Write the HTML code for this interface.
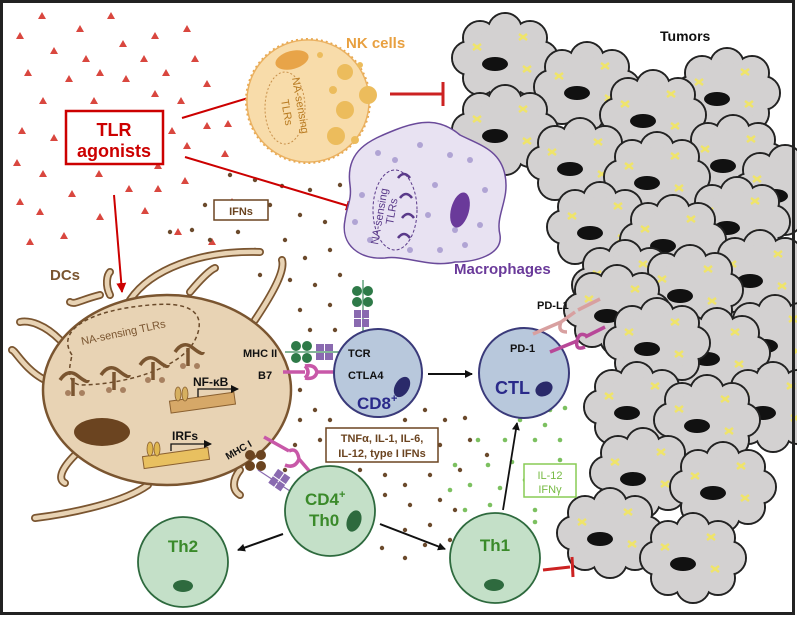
<!DOCTYPE html>
<html><head><meta charset="utf-8"><style>
html,body{margin:0;padding:0;background:#fff}
svg{display:block;font-family:"Liberation Sans",Arial,sans-serif}
</style></head><body>
<svg width="797" height="617" viewBox="0 0 797 617" xmlns="http://www.w3.org/2000/svg">
<defs>
<g id="cl">
 <g fill="#d3d1d1" stroke="#222" stroke-width="2">
  <circle cx="36" cy="0" r="17"/><circle cx="25" cy="20" r="17"/><circle cx="0" cy="28" r="17"/><circle cx="-25" cy="20" r="17"/>
  <circle cx="-36" cy="0" r="17"/><circle cx="-25" cy="-20" r="17"/><circle cx="0" cy="-28" r="17"/><circle cx="25" cy="-20" r="17"/>
 </g>
 <g fill="#d3d1d1">
  <circle cx="36" cy="0" r="16"/><circle cx="25" cy="20" r="16"/><circle cx="0" cy="28" r="16"/><circle cx="-25" cy="20" r="16"/>
  <circle cx="-36" cy="0" r="16"/><circle cx="-25" cy="-20" r="16"/><circle cx="0" cy="-28" r="16"/><circle cx="25" cy="-20" r="16"/>
  <ellipse cx="0" cy="0" rx="38" ry="30"/>
 </g>
 <ellipse cx="-10" cy="6" rx="13" ry="7" fill="#111"/>
 <g stroke="#efe46a" stroke-width="2.5"><path d="M14 -24 l8 6 M22 -24 l-8 6 M18 8 l8 6 M26 8 l-8 6 M-32 -14 l8 6 M-24 -14 l-8 6"/></g>
</g>
<marker id="ar" markerWidth="8" markerHeight="8" refX="7" refY="4" orient="auto" markerUnits="userSpaceOnUse"><path d="M0 0 L8 4 L0 8z" fill="#111"/></marker>
<marker id="arr" markerWidth="10" markerHeight="10" refX="9" refY="5" orient="auto" markerUnits="userSpaceOnUse"><path d="M0 0 L10 5 L0 10z" fill="#c00"/></marker>
</defs>

<!-- tumors -->
<use href="#cl" x="505" y="58"/><use href="#cl" x="727" y="93"/><use href="#cl" x="587" y="87"/>
<use href="#cl" x="505" y="130"/><use href="#cl" x="653" y="115"/>
<use href="#cl" x="733" y="160"/><use href="#cl" x="580" y="163"/><use href="#cl" x="657" y="177"/><use href="#cl" x="785" y="190"/>
<use href="#cl" x="737" y="222"/><use href="#cl" x="600" y="227"/><use href="#cl" x="673" y="240"/>
<use href="#cl" x="760" y="275"/><use href="#cl" x="625" y="285"/><use href="#cl" x="690" y="290"/>
<use href="#cl" x="617" y="310"/><use href="#cl" x="775" y="340"/><use href="#cl" x="717" y="353"/><use href="#cl" x="657" y="343"/>
<use href="#cl" x="773" y="407"/><use href="#cl" x="637" y="407"/><use href="#cl" x="707" y="420"/>
<use href="#cl" x="643" y="473"/><use href="#cl" x="723" y="487"/>
<use href="#cl" x="610" y="533"/><use href="#cl" x="693" y="558"/>
<text x="660" y="41" font-size="14" font-weight="bold" fill="#111">Tumors</text>

<!-- triangles -->
<g fill="#d9473f">
<path d="M42 12l4 7h-8z M111 12l4 7h-8z M20 32l4 7h-8z M80 25l4 7h-8z M155 32l4 7h-8z M187 25l4 7h-8z M54 47l4 7h-8z M123 40l4 7h-8z M86 55l4 7h-8z M144 55l4 7h-8z M195 55l4 7h-8z M28 69l4 7h-8z M69 75l4 7h-8z M100 69l4 7h-8z M126 75l4 7h-8z M166 69l4 7h-8z M43 97l4 7h-8z M94 97l4 7h-8z M155 90l4 7h-8z M181 97l4 7h-8z M207 80l4 7h-8z M22 127l4 7h-8z M54 134l4 7h-8z M172 127l4 7h-8z M207 122l4 7h-8z M187 142l4 7h-8z M17 159l4 7h-8z M43 170l4 7h-8z M99 170l4 7h-8z M158 162l4 7h-8z M72 190l4 7h-8z M129 185l4 7h-8z M158 185l4 7h-8z M185 177l4 7h-8z M40 208l4 7h-8z M100 213l4 7h-8z M145 207l4 7h-8z M225 150l4 7h-8z M232 198l4 7h-8z M212 238l4 7h-8z M178 228l4 7h-8z M20 198l4 7h-8z M30 238l4 7h-8z M64 232l4 7h-8z M228 120l4 7h-8z"/>
</g>

<!-- brown dots -->
<g fill="#6b4a2c">
<circle cx="230" cy="175" r="2.2"/><circle cx="255" cy="180" r="2.2"/><circle cx="282" cy="186" r="2.2"/><circle cx="310" cy="190" r="2.2"/><circle cx="340" cy="185" r="2.2"/>
<circle cx="240" cy="210" r="2.2"/><circle cx="270" cy="205" r="2.2"/><circle cx="300" cy="215" r="2.2"/><circle cx="325" cy="222" r="2.2"/>
<circle cx="192" cy="230" r="2.2"/><circle cx="210" cy="240" r="2.2"/><circle cx="255" cy="250" r="2.2"/><circle cx="285" cy="240" r="2.2"/><circle cx="305" cy="258" r="2.2"/><circle cx="330" cy="250" r="2.2"/>
<circle cx="260" cy="275" r="2.2"/><circle cx="290" cy="280" r="2.2"/><circle cx="315" cy="285" r="2.2"/><circle cx="340" cy="275" r="2.2"/>
<circle cx="300" cy="310" r="2.2"/><circle cx="330" cy="305" r="2.2"/><circle cx="310" cy="330" r="2.2"/><circle cx="335" cy="330" r="2.2"/>
<circle cx="300" cy="390" r="2.2"/><circle cx="315" cy="410" r="2.2"/><circle cx="300" cy="420" r="2.2"/><circle cx="330" cy="420" r="2.2"/>
<circle cx="295" cy="445" r="2.2"/><circle cx="320" cy="440" r="2.2"/><circle cx="345" cy="432" r="2.2"/><circle cx="285" cy="470" r="2.2"/>
<circle cx="360" cy="470" r="2.2"/><circle cx="385" cy="475" r="2.2"/><circle cx="405" cy="485" r="2.2"/><circle cx="430" cy="475" r="2.2"/>
<circle cx="385" cy="430" r="2.2"/><circle cx="405" cy="420" r="2.2"/><circle cx="425" cy="410" r="2.2"/><circle cx="445" cy="420" r="2.2"/><circle cx="465" cy="418" r="2.2"/>
<circle cx="385" cy="495" r="2.2"/><circle cx="410" cy="505" r="2.2"/><circle cx="440" cy="500" r="2.2"/><circle cx="405" cy="530" r="2.2"/><circle cx="430" cy="525" r="2.2"/><circle cx="455" cy="510" r="2.2"/>
<circle cx="382" cy="548" r="2.2"/><circle cx="405" cy="558" r="2.2"/><circle cx="425" cy="545" r="2.2"/><circle cx="450" cy="540" r="2.2"/>
<circle cx="440" cy="445" r="2.2"/><circle cx="470" cy="440" r="2.2"/><circle cx="487" cy="455" r="2.2"/><circle cx="460" cy="470" r="2.2"/>
<circle cx="205" cy="205" r="2.2"/><circle cx="238" cy="232" r="2.2"/><circle cx="170" cy="232" r="2.2"/>
</g>
<!-- green dots -->
<g fill="#7cc060">
<circle cx="478" cy="440" r="2.3"/><circle cx="488" cy="465" r="2.3"/><circle cx="470" cy="485" r="2.3"/><circle cx="465" cy="510" r="2.3"/><circle cx="490" cy="505" r="2.3"/>
<circle cx="478" cy="530" r="2.3"/><circle cx="505" cy="525" r="2.3"/><circle cx="500" cy="488" r="2.3"/><circle cx="512" cy="462" r="2.3"/><circle cx="505" cy="440" r="2.3"/>
<circle cx="520" cy="420" r="2.3"/><circle cx="535" cy="440" r="2.3"/><circle cx="545" cy="425" r="2.3"/><circle cx="560" cy="440" r="2.3"/><circle cx="550" cy="410" r="2.3"/>
<circle cx="525" cy="480" r="2.3"/><circle cx="545" cy="480" r="2.3"/><circle cx="560" cy="460" r="2.3"/><circle cx="535" cy="510" r="2.3"/><circle cx="560" cy="495" r="2.3"/>
<circle cx="525" cy="545" r="2.3"/><circle cx="535" cy="522" r="2.3"/><circle cx="455" cy="465" r="2.3"/><circle cx="450" cy="490" r="2.3"/><circle cx="565" cy="408" r="2.3"/>
</g>

<!-- TLR agonists -->
<rect x="66" y="111" width="97" height="53" fill="#fff" stroke="#c00" stroke-width="2.5"/>
<text x="114" y="136" font-size="18" font-weight="bold" fill="#c00" text-anchor="middle">TLR</text>
<text x="114" y="157" font-size="18" font-weight="bold" fill="#c00" text-anchor="middle">agonists</text>
<line x1="182" y1="118" x2="258" y2="95" stroke="#c00" stroke-width="2" marker-end="url(#arr)"/>
<line x1="185" y1="157" x2="355" y2="208" stroke="#c00" stroke-width="2" marker-end="url(#arr)"/>
<line x1="114" y1="195" x2="122" y2="292" stroke="#c00" stroke-width="2" marker-end="url(#arr)"/>

<!-- NK cell -->
<circle cx="308" cy="101" r="62" fill="#f8dcaa" stroke="#e8a850" stroke-width="2" stroke-dasharray="2 3"/>
<circle cx="308" cy="101" r="61" fill="#f8dcaa" stroke="#eab060" stroke-width="1.3"/>
<ellipse cx="292" cy="60" rx="17" ry="9" fill="#e8a448" transform="rotate(-15 292 60)"/>
<g fill="#ecbc5c"><circle cx="345" cy="72" r="8"/><circle cx="345" cy="110" r="9"/><circle cx="368" cy="95" r="9"/><circle cx="336" cy="136" r="9"/><circle cx="333" cy="90" r="4"/><circle cx="355" cy="140" r="4"/><circle cx="320" cy="55" r="3"/><circle cx="360" cy="65" r="3"/></g>
<ellipse cx="285" cy="108" rx="20" ry="36" fill="none" stroke="#c8904a" stroke-dasharray="2 2"/>
<text x="0" y="0" font-size="11" fill="#b87a20" transform="translate(292 78) rotate(80)">NA-sensing</text>
<text x="0" y="0" font-size="11" fill="#b87a20" transform="translate(281 100) rotate(80)">TLRs</text>
<text x="346" y="48" font-size="15" font-weight="bold" fill="#e8a040">NK cells</text>
<line x1="390" y1="94" x2="443" y2="94" stroke="#c22" stroke-width="3"/>
<line x1="443" y1="82" x2="443" y2="106" stroke="#c22" stroke-width="3"/>

<!-- Macrophage -->
<path d="M350 185 C345 150 370 140 395 130 C420 120 440 118 460 135 C480 145 500 150 505 175 C510 200 495 215 500 235 C503 255 475 262 455 262 C430 268 405 255 385 258 C360 260 340 245 345 220 C347 205 352 200 350 185Z" fill="#e8e2f2" stroke="#6a4a9a" stroke-width="1.5"/>
<g fill="#b0a4d4"><circle cx="378" cy="153" r="3"/><circle cx="395" cy="160" r="3"/><circle cx="420" cy="145" r="3"/><circle cx="450" cy="155" r="3"/><circle cx="470" cy="160" r="3"/><circle cx="485" cy="190" r="3"/><circle cx="480" cy="225" r="3"/><circle cx="465" cy="245" r="3"/><circle cx="440" cy="250" r="3"/><circle cx="410" cy="250" r="3"/><circle cx="370" cy="240" r="3"/><circle cx="355" cy="222" r="3"/><circle cx="362" cy="195" r="3"/><circle cx="428" cy="215" r="3"/><circle cx="435" cy="185" r="3"/><circle cx="455" cy="230" r="3"/></g>
<ellipse cx="460" cy="210" rx="9" ry="18" fill="#6a3a9a" transform="rotate(15 460 210)"/>
<ellipse cx="395" cy="210" rx="22" ry="40" fill="none" stroke="#5a3a8a" stroke-dasharray="3 2"/>
<text x="0" y="0" font-size="11" fill="#5a3a8a" transform="translate(378 245) rotate(-80)">NA-sensing</text>
<text x="0" y="0" font-size="11" fill="#5a3a8a" transform="translate(393 225) rotate(-80)">TLRs</text>
<g stroke="#5a3a8a" stroke-width="2.5" fill="none"><path d="M398 178 q6 -8 12 0 M400 198 q6 -8 12 0 M402 218 q6 -8 12 0 M398 238 q6 -8 12 0"/></g>
<text x="454" y="274" font-size="15" font-weight="bold" fill="#6a3a9a">Macrophages</text>

<!-- DC dendrites -->
<g fill="none" stroke-linecap="round">
<g stroke="#7a5530" stroke-width="8">
<path d="M130 300 C150 270 200 250 260 252"/><path d="M60 340 C45 325 30 320 20 322"/><path d="M45 380 C25 370 15 350 12 350"/><path d="M110 295 C105 285 107 275 110 272"/><path d="M190 292 C200 280 210 270 215 268"/><path d="M255 320 C275 290 285 270 282 260"/><path d="M75 455 C60 470 58 480 65 483"/><path d="M148 485 C120 505 60 515 35 518"/><path d="M240 470 C232 480 232 490 240 495"/><path d="M100 295 C80 300 75 305 70 302"/>
</g>
<g stroke="#e8d3b4" stroke-width="4.5">
<path d="M130 300 C150 270 200 250 260 252"/><path d="M60 340 C45 325 30 320 20 322"/><path d="M45 380 C25 370 15 350 12 350"/><path d="M110 295 C105 285 107 275 110 272"/><path d="M190 292 C200 280 210 270 215 268"/><path d="M255 320 C275 290 285 270 282 260"/><path d="M75 455 C60 470 58 480 65 483"/><path d="M148 485 C120 505 60 515 35 518"/><path d="M240 470 C232 480 232 490 240 495"/><path d="M100 295 C80 300 75 305 70 302"/>
</g></g>
<ellipse cx="167" cy="390" rx="124" ry="95" fill="#e8d3b4" stroke="#7a5530" stroke-width="2.5"/>
<text x="50" y="280" font-size="15" font-weight="bold" fill="#7a5530">DCs</text>
<path d="M72 355 C55 330 90 310 150 305 C200 300 205 320 195 340 C180 370 120 385 80 385 C65 382 70 365 72 355Z" fill="none" stroke="#6a4a2a" stroke-width="1.5" stroke-dasharray="4 3"/>
<text x="0" y="0" font-size="11" fill="#7a5530" transform="translate(82 345) rotate(-12)">NA-sensing TLRs</text>
<g stroke="#7a5530" stroke-width="3.5" fill="none">
<path d="M60 380 q8 -12 18 -4 q10 8 10 4 M73 378 v18 M101 375 q8 -12 18 -4 q10 8 10 4 M114 372 v18 M140 365 q8 -12 18 -4 q10 8 10 4 M153 362 v18 M175 352 q8 -12 18 -4 q10 8 10 4 M188 348 v18"/>
</g>
<g fill="#a78060"><circle cx="68" cy="393" r="3"/><circle cx="82" cy="393" r="3"/><circle cx="109" cy="390" r="3"/><circle cx="123" cy="390" r="3"/><circle cx="148" cy="380" r="3"/><circle cx="162" cy="380" r="3"/><circle cx="183" cy="366" r="3"/><circle cx="197" cy="366" r="3"/></g>
<ellipse cx="102" cy="432" rx="28" ry="14" fill="#6b4420"/>
<rect x="170" y="397" width="65" height="12" fill="#d6a868" stroke="#8a6030" transform="rotate(-8 200 403)"/>
<ellipse cx="178" cy="394" rx="3" ry="7" fill="#d6b060" stroke="#8a6030" stroke-width=".8"/><ellipse cx="185" cy="394" rx="3" ry="7" fill="#d6b060" stroke="#8a6030" stroke-width=".8"/>
<path d="M198 397 v-8 h40" stroke="#111" stroke-width="1.3" fill="none" marker-end="url(#ar)"/>
<text x="193" y="386" font-size="12" font-weight="bold" fill="#111">NF-κB</text>
<rect x="143" y="452" width="66" height="12" fill="#e8c060" stroke="#8a6030" transform="rotate(-8 176 458)"/>
<ellipse cx="150" cy="449" rx="3" ry="7" fill="#e0b850" stroke="#8a6030" stroke-width=".8"/><ellipse cx="157" cy="449" rx="3" ry="7" fill="#e0b850" stroke="#8a6030" stroke-width=".8"/>
<path d="M171 451 v-7 h40" stroke="#111" stroke-width="1.3" fill="none" marker-end="url(#ar)"/>
<text x="172" y="440" font-size="12" font-weight="bold" fill="#111">IRFs</text>
<text x="243" y="357" font-size="11" font-weight="bold" fill="#111">MHC II</text>
<text x="258" y="379" font-size="11" font-weight="bold" fill="#111">B7</text>
<text x="0" y="0" font-size="10" font-weight="bold" fill="#111" transform="translate(228 460) rotate(-30)">MHC I</text>

<!-- receptors -->
<line x1="285" y1="352" x2="345" y2="352" stroke="#3a8a5a" stroke-width="1.2"/>
<g fill="#2e7a48"><circle cx="296" cy="346" r="5"/><circle cx="296" cy="358" r="5"/><circle cx="307" cy="346" r="5"/><circle cx="307" cy="358" r="5"/></g>
<g fill="#8a6ab0"><rect x="316" y="344" width="8" height="7"/><rect x="316" y="353" width="8" height="7"/><rect x="325" y="344" width="8" height="7"/><rect x="325" y="353" width="8" height="7"/></g>
<path d="M283 372 h22 M305 366 q6 6 0 12 M305 366 q10 -2 12 6 M305 378 q10 2 12 -6 M317 372 h22" stroke="#c858a8" stroke-width="3.5" fill="none"/>
<g fill="#2e7a48"><circle cx="357" cy="291" r="5"/><circle cx="368" cy="291" r="5"/><circle cx="357" cy="302" r="5"/><circle cx="368" cy="302" r="5"/></g>
<line x1="363" y1="280" x2="363" y2="335" stroke="#3a8a5a" stroke-width="1.2"/>
<g fill="#8a6ab0"><rect x="354" y="310" width="7" height="8"/><rect x="362" y="310" width="7" height="8"/><rect x="354" y="319" width="7" height="8"/><rect x="362" y="319" width="7" height="8"/></g>
<path d="M264 437 l25 14 M289 451 q8 -4 10 8 q-4 10 -14 6 M299 459 l12 14" stroke="#c858a8" stroke-width="3.5" fill="none"/>
<g fill="#6b4420"><circle cx="250" cy="455" r="5"/><circle cx="261" cy="455" r="5"/><circle cx="250" cy="466" r="5"/><circle cx="261" cy="466" r="5"/></g>
<g fill="#8a6ab0" transform="rotate(35 280 480)"><rect x="272" y="472" width="7" height="8"/><rect x="280" y="472" width="7" height="8"/><rect x="272" y="481" width="7" height="8"/><rect x="280" y="481" width="7" height="8"/></g>
<line x1="258" y1="470" x2="296" y2="495" stroke="#8a6ab0" stroke-width="1.2"/>

<!-- CD8 -->
<circle cx="378" cy="373" r="44" fill="#b8c8dc" stroke="#3a3a7a" stroke-width="2"/>
<text x="348" y="357" font-size="11" font-weight="bold" fill="#111">TCR</text>
<text x="348" y="379" font-size="11" font-weight="bold" fill="#111">CTLA4</text>
<text x="357" y="409" font-size="17" font-weight="bold" fill="#2a2a8a">CD8<tspan font-size="11" dy="-7">+</tspan></text>
<ellipse cx="402" cy="387" rx="7" ry="11" fill="#2a2a6a" transform="rotate(30 402 387)"/>
<line x1="428" y1="374" x2="472" y2="374" stroke="#111" stroke-width="2" marker-end="url(#ar)"/>

<!-- CTL -->
<circle cx="524" cy="373" r="45" fill="#b8c8dc" stroke="#3a3a7a" stroke-width="2"/>
<text x="510" y="352" font-size="11" font-weight="bold" fill="#111">PD-1</text>
<text x="495" y="394" font-size="18" font-weight="bold" fill="#2a2a8a">CTL</text>
<ellipse cx="544" cy="389" rx="9" ry="7" fill="#2a2a6a" transform="rotate(-30 544 389)"/>
<text x="537" y="309" font-size="11" font-weight="bold" fill="#111">PD-L1</text>
<path d="M533 334 l28 -12 M561 322 q-4 10 6 10 M561 322 l14 -10 M578 310 l22 -11" stroke="#d8a0a0" stroke-width="3.5" fill="none"/>
<path d="M550 352 l27 -11 M577 341 q-2 10 8 6 M577 341 q2 -10 10 -5 M585 337 l20 -10" stroke="#b84898" stroke-width="3.5" fill="none"/>

<!-- cytokine boxes -->
<rect x="214" y="200" width="54" height="20" fill="#fff" stroke="#6b4420" stroke-width="1.5"/>
<text x="241" y="215" font-size="11" font-weight="bold" fill="#6b4420" text-anchor="middle">IFNs</text>
<rect x="326" y="428" width="112" height="34" fill="#fff" stroke="#6b4420" stroke-width="1.5"/>
<text x="382" y="442" font-size="11" font-weight="bold" fill="#6b4420" text-anchor="middle">TNFα, IL-1, IL-6,</text>
<text x="382" y="457" font-size="11" font-weight="bold" fill="#6b4420" text-anchor="middle">IL-12, type I IFNs</text>
<rect x="524" y="464" width="52" height="33" fill="#fff" stroke="#88cc55" stroke-width="1.5"/>
<text x="550" y="479" font-size="11" fill="#77bb44" text-anchor="middle">IL-12</text>
<text x="550" y="493" font-size="11" fill="#77bb44" text-anchor="middle">IFNγ</text>

<!-- Th cells -->
<circle cx="330" cy="511" r="45" fill="#c4e0c8" stroke="#2e6a3e" stroke-width="1.8"/>
<text x="305" y="505" font-size="17" font-weight="bold" fill="#3a8a2a">CD4<tspan font-size="11" dy="-7">+</tspan></text>
<text x="309" y="526" font-size="17" font-weight="bold" fill="#3a8a2a">Th0</text>
<ellipse cx="354" cy="521" rx="7" ry="11" fill="#2e6a3e" transform="rotate(20 354 521)"/>
<circle cx="183" cy="562" r="45" fill="#c4e0c8" stroke="#2e6a3e" stroke-width="1.8"/>
<text x="183" y="552" font-size="17" font-weight="bold" fill="#3a8a2a" text-anchor="middle">Th2</text>
<ellipse cx="183" cy="586" rx="10" ry="6" fill="#2e6a3e"/>
<circle cx="495" cy="558" r="45" fill="#c4e0c8" stroke="#2e6a3e" stroke-width="1.8"/>
<text x="495" y="551" font-size="17" font-weight="bold" fill="#3a8a2a" text-anchor="middle">Th1</text>
<ellipse cx="494" cy="585" rx="10" ry="6" fill="#2e6a3e"/>
<line x1="283" y1="534" x2="238" y2="550" stroke="#111" stroke-width="2" marker-end="url(#ar)"/>
<line x1="380" y1="524" x2="445" y2="549" stroke="#111" stroke-width="2" marker-end="url(#ar)"/>
<line x1="503" y1="510" x2="517" y2="423" stroke="#111" stroke-width="1.8" marker-end="url(#ar)"/>
<line x1="543" y1="570" x2="570" y2="567" stroke="#c22" stroke-width="3"/>
<line x1="572" y1="557" x2="573" y2="577" stroke="#c22" stroke-width="3"/>

<!-- frame -->
<rect x="1.5" y="1.5" width="792" height="612" fill="none" stroke="#222" stroke-width="3"/>
</svg>
</body></html>
